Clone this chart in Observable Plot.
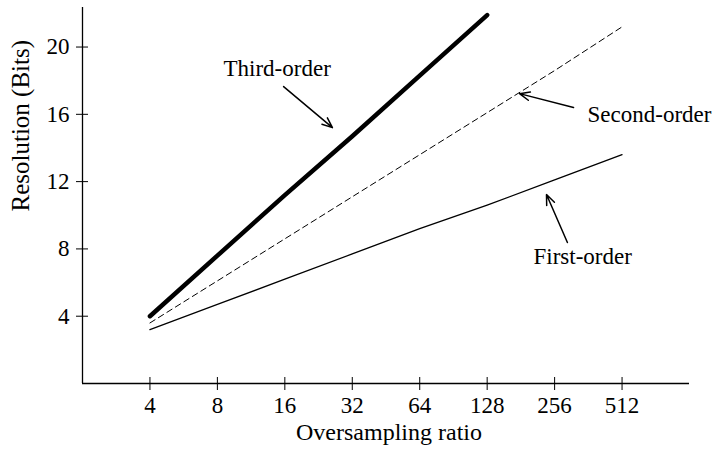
<!DOCTYPE html>
<html>
<head>
<meta charset="utf-8">
<script src="https://cdn.jsdelivr.net/npm/d3@7"></script>
<script src="https://cdn.jsdelivr.net/npm/@observablehq/plot@0.6"></script>
<style>
  html, body { margin: 0; padding: 0; background: #fff; }
</style>
</head>
<body>
<div id="chart"></div>
<script>
// Oversampling ratio (x) and resolution in bits (y)
const ratios = [4, 8, 16, 32, 64, 128, 256, 512];
const firstOrder = [3.2, 4.7, 6.2, 7.7, 9.2, 10.6, 12.1, 13.6];
const secondOrder = [3.6, 6.1, 8.6, 11.1, 13.6, 16.1, 18.6, 21.2];
const thirdRatios = [4, 8, 16, 32, 64, 128];
const thirdOrder = [4.0, 7.6, 11.2, 14.7, 18.3, 21.9];

const xTicks = [4, 8, 16, 32, 64, 128, 256, 512];
const yTicks = [4, 8, 12, 16, 20];
const xLabel = "Oversampling ratio";
const yLabel = "Resolution (Bits)";

// Annotation labels (left-anchored, in data coordinates)
const annLabels = ["Third-order", "Second-order", "First-order"];
const annX = [8.52, 359, 206];
const annY = [18.7, 16.0, 7.55];
// Arrows: from (x1,y1) to (x2,y2) in data coordinates
const arrX1 = [15.8, 311, 292];
const arrY1 = [17.65, 16.4, 8.38];
const arrX2 = [26.1, 178.5, 235.5];
const arrY2 = [15.21, 17.23, 11.23];

const first = ratios.map((r, i) => ({x: r, y: firstOrder[i]}));
const second = ratios.map((r, i) => ({x: r, y: secondOrder[i]}));
const third = thirdRatios.map((r, i) => ({x: r, y: thirdOrder[i]}));
const anns = annLabels.map((t, i) => ({text: t, x: annX[i], y: annY[i]}));
const arrows = arrX1.map((x1, i) => ({x1, y1: arrY1[i], x2: arrX2[i], y2: arrY2[i]}));

const chart = Plot.plot({
  width: 716,
  height: 453,
  marginLeft: 82,
  marginRight: 27,
  marginTop: 7,
  marginBottom: 70,
  style: {fontFamily: "'Liberation Serif', 'Times New Roman', serif", fontSize: "23px", color: "#000", background: "#fff"},
  x: {type: "log", base: 2, domain: [2, 1024]},
  y: {domain: [0, 22.35]},
  marks: [
    Plot.ruleX([2], {y1: 0, y2: 22.35, stroke: "#000", strokeWidth: 1.3}),
    Plot.ruleY([0], {stroke: "#000", strokeWidth: 1.3}),
    Plot.axisY(yTicks, {tickSize: 12, dx: 6, tickPadding: 7, label: null, tickFormat: d => String(d)}),
    Plot.axisX(xTicks, {tickSize: 13, dy: -6, tickPadding: 6, label: null, tickFormat: d => String(d)}),
    Plot.line(first, {x: "x", y: "y", stroke: "#000", strokeWidth: 1.3}),
    Plot.line(second, {x: "x", y: "y", stroke: "#000", strokeWidth: 1, strokeDasharray: "6,4"}),
    Plot.line(third, {x: "x", y: "y", stroke: "#000", strokeWidth: 4.5}),
    Plot.text(anns, {x: "x", y: "y", text: "text", textAnchor: "start", fill: "#000", fontSize: 23}),
    Plot.arrow(arrows, {x1: "x1", y1: "y1", x2: "x2", y2: "y2", stroke: "#000", strokeWidth: 1.5, headLength: 11, headAngle: 45}),
    Plot.text([xLabel], {frameAnchor: "bottom", text: d => d, dy: 56, dx: 3, fill: "#000", fontSize: 24}),
    Plot.text([yLabel], {frameAnchor: "left", text: d => d, rotate: -90, dx: -62, dy: 16, fill: "#000", fontSize: 25})
  ]
});
document.getElementById("chart").appendChild(chart);
</script>
</body>
</html>
